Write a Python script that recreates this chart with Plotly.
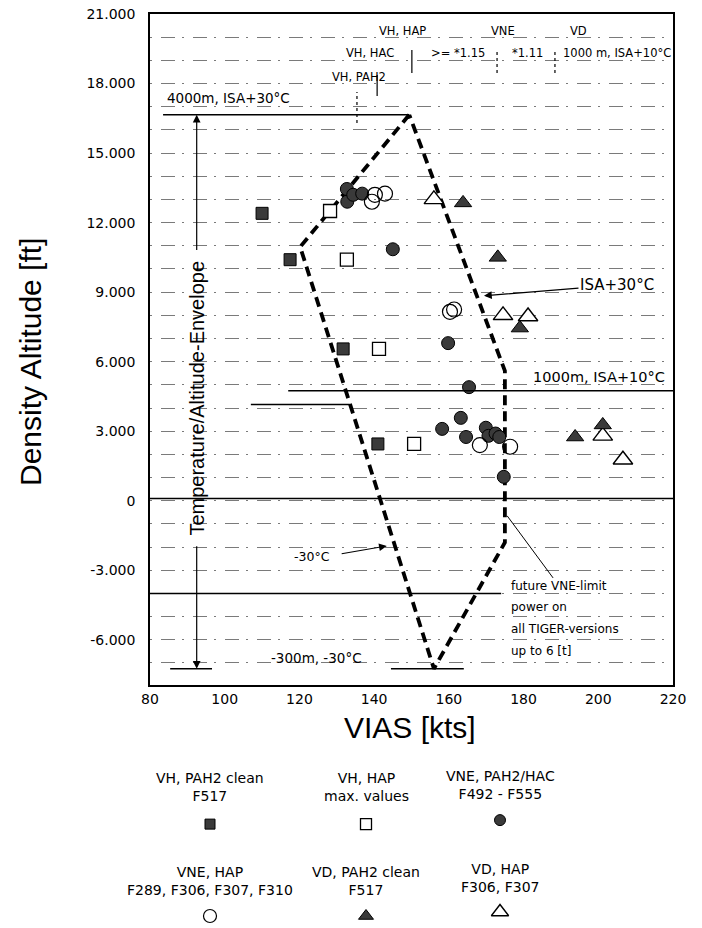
import plotly.graph_objects as go

# ---------------- data ----------------
vh_pah2_kts = [110, 117.5, 131.7, 141.0]
vh_pah2_ft = [12400, 10400, 6550, 2450]

vh_hap_kts = [128.2, 132.7, 141.3, 150.7]
vh_hap_ft = [12500, 10400, 6550, 2450]

vne_pah2_kts = [132.7, 132.8, 134.4, 136.8, 145.0, 159.8, 165.4, 163.2, 158.2, 164.6,
                169.9, 170.6, 172.5, 173.5, 174.7]
vne_pah2_ft = [13450, 12900, 13200, 13250, 10850, 6800, 4900, 3575, 3100, 2750,
               3150, 2800, 2900, 2750, 1030]

vne_hap_kts = [140.2, 142.9, 139.4, 160.3, 161.4, 168.3, 176.4]
vne_hap_ft = [13200, 13250, 12900, 8150, 8250, 2400, 2330]

vd_pah2_kts = [163.8, 173.1, 179.0, 193.8, 201.2]
vd_pah2_ft = [12850, 10500, 7450, 2750, 3270]

vd_hap_kts = [156.0, 174.5, 181.2, 201.2, 206.6]
vd_hap_ft = [13000, 8000, 7950, 2800, 1770]

# temperature / altitude envelope (dashed polygon)
env_kts = [149.4, 120.2, 156.0, 175.0, 175.0, 149.4]
env_ft = [16650, 10950, -7250, -1800, 5600, 16650]

# solid reference lines: (kts_start, kts_end, ft)
ref_x0 = [83.5, 117.0, 80.0, 80.0, 107.0, 144.5, 85.4]
ref_x1 = [149.4, 220.0, 220.0, 174.0, 133.5, 164.0, 96.6]
ref_ft = [16650, 4750, 100, -4000, 4150, -7250, -7250]

x_ticks = [80, 100, 120, 140, 160, 180, 200, 220]
y_ticks = [21000, 18000, 15000, 12000, 9000, 6000, 3000, 0, -3000, -6000]
y_tick_text = ["21.000", "18.000", "15.000", "12.000", "9.000", "6.000",
               "3.000", "0", "-3.000", "-6.000"]

legend_lines = [
    "VH, PAH2 clean<br>F517", "VH, HAP<br>max. values", "VNE, PAH2/HAC<br>F492 - F555",
    "VNE, HAP<br>F289, F306, F307, F310", "VD, PAH2 clean<br>F517", "VD, HAP<br>F306, F307",
]

FONT = "DejaVu Sans"
SANS = "Liberation Sans"
DARK = "#3a3a3a"

fig = go.Figure()

# envelope
fig.add_trace(go.Scatter(x=env_kts, y=env_ft, mode="lines",
                         line=dict(color="black", width=3.8, dash="10px,6px"),
                         hoverinfo="skip", showlegend=False))

series = [
    (vd_hap_kts, vd_hap_ft, dict(symbol="triangle-up", size=17, color="white",
                                 line=dict(color="black", width=1.4))),
    (vh_hap_kts, vh_hap_ft, dict(symbol="square", size=13, color="white",
                                 line=dict(color="black", width=1.3))),
    (vh_pah2_kts, vh_pah2_ft, dict(symbol="square", size=12, color=DARK,
                                   line=dict(color="black", width=1))),
    (vne_pah2_kts, vne_pah2_ft, dict(symbol="circle", size=13, color=DARK,
                                     line=dict(color="black", width=1))),
    (vne_hap_kts, vne_hap_ft, dict(symbol="circle-open", size=15,
                                   color="black", line=dict(width=1.2))),
    (vd_pah2_kts, vd_pah2_ft, dict(symbol="triangle-up", size=15, color=DARK,
                                   line=dict(color="black", width=1))),
]
for xs, ys, mk in series:
    fig.add_trace(go.Scatter(x=xs, y=ys, mode="markers", marker=mk,
                             showlegend=False, cliponaxis=False))

shapes = []
for a, b, f in zip(ref_x0, ref_x1, ref_ft):
    shapes.append(dict(type="line", xref="x", yref="y", x0=a, x1=b, y0=f, y1=f,
                       line=dict(color="black", width=1.5)))

# small vertical separators in the top annotation block
sep_x = [150.1, 172.9, 188.4, 140.8, 135.4]
sep_y0 = [18450, 18450, 18450, 17460, 16300]
sep_y1 = [19450, 19450, 19450, 18370, 17640]
sep_dash = ["solid", "dot", "dot", "solid", "dot"]
for sx, a, b, d in zip(sep_x, sep_y0, sep_y1, sep_dash):
    shapes.append(dict(type="line", xref="x", yref="y", x0=sx, x1=sx, y0=a, y1=b,
                       line=dict(color="black", width=1.2, dash=d)))

# leader line to future VNE limit
shapes.append(dict(type="line", xref="x", yref="y", x0=175.6, y0=-650, x1=187.9, y1=-3330,
                   line=dict(color="black", width=1)))

annotations = []


def txt(x, y, t, size=12, xanchor="center", angle=0, ref=("x", "y"), family=FONT):
    annotations.append(dict(x=x, y=y, xref=ref[0], yref=ref[1], text=t, showarrow=False,
                            xanchor=xanchor, yanchor="middle", textangle=angle,
                            font=dict(family=family, size=size, color="black")))


def arrow(x, y, ax, ay):
    annotations.append(dict(x=x, y=y, ax=ax, ay=ay, xref="x", yref="y", axref="x", ayref="y",
                            text="", showarrow=True, arrowhead=2, arrowsize=1.3,
                            arrowwidth=1.2, arrowcolor="black"))


# top block
txt(147.5, 20270, "VH, HAP", 11.5)
txt(174.5, 20270, "VNE", 11.5)
txt(194.6, 20270, "VD", 11.5)
txt(139.0, 19300, "VH, HAC", 11.5)
txt(162.5, 19300, "&gt;= *1.15", 11.5)
txt(181.0, 19300, "*1.11", 11.5)
txt(219.95, 19300, "1000 m, ISA+10°C", 11.5, xanchor="right")
txt(136.0, 18300, "VH, PAH2", 11.5)
txt(84.0, 17380, "4000m, ISA+30°C", 13.5, xanchor="left")

# inner annotations
txt(205.0, 9310, "ISA+30°C", 15)
arrow(169.4, 8840, 195.1, 9180)
txt(218.4, 5344, "1000m, ISA+10°C", 14.5, xanchor="right")
txt(123.4, -2400, "-30°C", 12.5)
arrow(143.4, -1950, 130.9, -2300)
txt(176.1, -3670, "future VNE-limit", 12, xanchor="left")
txt(176.1, -4575, "power on", 12, xanchor="left")
txt(176.1, -5525, "all TIGER-versions", 12, xanchor="left")
txt(176.1, -6470, "up to 6 [t]", 12, xanchor="left")
txt(124.7, -6780, "-300m, -30°C", 13.5)
txt(92.5, 4438, "Temperature/Altitude-Envelope", 20, angle=-90, family=SANS)
arrow(92.5, 16650, 92.5, 10750)
arrow(92.5, -7250, 92.5, -1900)

# axis titles
annotations.append(dict(x=(30 - 150) / 523, y=(928 - 362) / 914, xref="paper", yref="paper",
                        xanchor="center", yanchor="middle",
                        text="Density Altitude [ft]", showarrow=False, textangle=-90,
                        font=dict(family=SANS, size=30, color="black")))
annotations.append(dict(x=(410 - 150) / 523, y=(928 - 727) / 914, xref="paper", yref="paper",
                        xanchor="center", yanchor="middle",
                        text="VIAS [kts]", showarrow=False,
                        font=dict(family=SANS, size=30, color="black")))

# legend block (axis x2/y2 in pixel-like units)
leg_col_x = [210, 366, 500, 210, 366, 500]
leg_text_y = [787, 787, 785, 881, 881, 878]
leg_mark_y = [824, 824, 820, 916, 916, 912]
leg_markers = [series[2][2], series[1][2], series[3][2], series[4][2], series[5][2], series[0][2]]
for lx, ty, my, lab, mk in zip(leg_col_x, leg_text_y, leg_mark_y, legend_lines, leg_markers):
    annotations.append(dict(x=lx, y=ty, xref="x2", yref="y2", text=lab, showarrow=False,
                            font=dict(family=FONT, size=14, color="black")))
    mk2 = dict(mk)
    mk2["size"] = mk["size"] - 2
    fig.add_trace(go.Scatter(x=[lx], y=[my], xaxis="x2", yaxis="y2", mode="markers",
                             marker=mk2, showlegend=False, cliponaxis=False))

grid_style = dict(gridcolor="#7a7a7a", gridwidth=0.8, griddash="2px,9px,14px,7px")

fig.update_layout(
    width=702, height=928,
    margin=dict(l=150, r=29, t=14, b=0),
    paper_bgcolor="white", plot_bgcolor="white",
    showlegend=False,
    xaxis=dict(domain=[0, 1], range=[80, 220], tickvals=x_ticks, ticks="",
               showgrid=False, zeroline=False, showline=True, mirror=True,
               linecolor="black", linewidth=1.5, anchor="y",
               tickfont=dict(family=FONT, size=14, color="black")),
    yaxis=dict(domain=[(928 - 685) / 914, 1], range=[-7950, 21000], tickvals=y_ticks,
               ticktext=y_tick_text, ticks="", zeroline=False, showline=True, mirror=True,
               linecolor="black", linewidth=1.5, anchor="x", showgrid=True,
               ticklabelstandoff=10,
               minor=dict(dtick=1000, tick0=0, showgrid=True, **grid_style),
               tickfont=dict(family=FONT, size=14, color="black"), **grid_style),
    xaxis2=dict(domain=[0, 1], range=[150, 673], visible=False, anchor="y2"),
    yaxis2=dict(domain=[0, 0.2], range=[928, 745], visible=False, anchor="x2"),
    shapes=shapes,
    annotations=annotations,
)

fig.write_html("out.html")
